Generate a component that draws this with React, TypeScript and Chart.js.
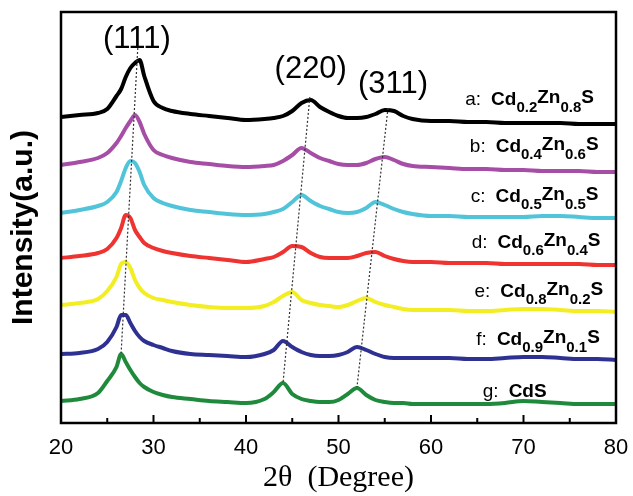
import React, { useEffect, useRef } from "react";
import { Chart, registerables } from "chart.js";

Chart.register(...registerables);

// 2θ sampling positions (degrees)
const twoTheta = [20, 22, 24, 25, 26, 26.5, 27, 27.5, 28, 28.5, 29, 30, 31, 32, 34, 36, 38, 40, 42, 43, 44, 45, 46, 47, 48, 49, 50, 51, 52, 53, 54, 55, 56, 57, 58, 60, 62, 64, 66, 68, 70, 72, 74, 76, 78, 80];

// Stacked intensities (a.u.)
const seriesA = [306, 308, 310, 314, 327, 334, 346, 355, 360, 363, 347, 322, 315, 312, 309, 307, 305, 303, 304, 305, 307, 312, 320, 323, 316, 311, 307, 305, 305, 306, 309, 313, 312, 307, 304, 302, 302, 301, 301, 300, 300, 300, 300, 299, 299, 299];
const seriesB = [258, 261, 265, 270, 280, 287, 295, 302, 308, 301, 289, 273, 268, 265, 261, 259, 257, 256, 257, 258, 262, 268, 275, 270, 265, 262, 259, 258, 258, 260, 264, 266, 263, 259, 257, 256, 255, 254, 254, 253, 253, 252, 252, 252, 251, 251];
const seriesC = [210, 213, 217, 221, 231, 242, 255, 262, 260, 251, 238, 225, 220, 217, 213, 211, 209, 208, 209, 211, 214, 221, 228, 222, 217, 214, 211, 210, 211, 215, 221, 218, 214, 211, 209, 207, 207, 206, 206, 206, 206, 207, 207, 206, 205, 205];
const seriesD = [165, 167, 170, 174, 185, 195, 208, 205, 193, 186, 180, 175, 172, 170, 167, 165, 163, 161, 164, 166, 171, 177, 176, 170, 166, 165, 165, 165, 167, 170, 171, 167, 164, 162, 161, 161, 160, 160, 160, 159, 159, 159, 159, 159, 158, 158];
const seriesE = [118, 120, 124, 132, 146, 159, 161, 155, 143, 135, 130, 125, 123, 121, 118, 116, 115, 115, 117, 121, 127, 131, 123, 120, 118, 117, 116, 118, 122, 125, 121, 118, 116, 114, 113, 113, 113, 112, 112, 113, 114, 114, 113, 112, 112, 111];
const seriesF = [69, 70, 74, 81, 96, 108, 108, 100, 92, 86, 82, 78, 75, 72, 69, 68, 67, 66, 69, 73, 82, 76, 71, 68, 67, 67, 68, 71, 76, 73, 69, 66, 65, 65, 65, 65, 65, 64, 64, 65, 66, 66, 65, 64, 64, 63];
const seriesG = [22, 24, 30, 42, 56, 69, 61, 53, 46, 40, 36, 31, 28, 26, 24, 22, 21, 20, 24, 31, 40, 29, 24, 22, 21, 21, 23, 29, 35, 28, 23, 21, 20, 20, 19, 19, 19, 19, 19, 20, 22, 21, 20, 19, 19, 19];

const allSeries = [seriesA, seriesB, seriesC, seriesD, seriesE, seriesF, seriesG];
const seriesColors = ["#000000", "#a64ea6", "#52c4d9", "#ee3330", "#f2ee22", "#2e3192", "#1f8a3c"];

// Sample labels
const labelLetters = ["a", "b", "c", "d", "e", "f", "g"];
const cdFraction = ["0.2", "0.4", "0.5", "0.6", "0.8", "0.9", ""];
const znFraction = ["0.8", "0.6", "0.5", "0.4", "0.2", "0.1", ""];
const labelX = [63.7, 64.2, 64.3, 64.4, 64.7, 64.9, 65.6];
const labelY = [318, 271, 221, 175, 126, 78, 26];

// Reflection labels
const peakNames = ["(111)", "(220)", "(311)"];
const peakNameX = [28.2, 47.0, 55.9];
const peakNameY = [384, 354, 339];

// Guide lines through the reflections (top point, bottom point)
const guideX111 = [28.3, 26.5];
const guideY111 = [375, 70];
const guideX220 = [46.9, 44.0];
const guideY220 = [326, 40];
const guideX311 = [55.35, 52.0];
const guideY311 = [315, 36];

const xMin = 20;
const xMax = 80;
const xStep = 10;
const yMin = 0;
const yMax = 411;

const SANS = "'Liberation Sans', Arial, sans-serif";
const SERIF = "'Liberation Serif', 'Times New Roman', serif";

const decorPlugin = {
  id: "decor",
  afterDatasetsDraw(chart: any) {
    const ctx = chart.ctx as CanvasRenderingContext2D;
    const xs = chart.scales.x;
    const ys = chart.scales.y;
    const area = chart.chartArea;
    ctx.save();

    // frame
    ctx.strokeStyle = "#000";
    ctx.lineWidth = 2.5;
    ctx.strokeRect(area.left, area.top, area.right - area.left, area.bottom - area.top);

    // inward ticks
    ctx.lineWidth = 2;
    for (let v = xMin + 5; v < xMax; v += 5) {
      const px = xs.getPixelForValue(v);
      const len = v % 10 === 0 ? 8 : 5;
      ctx.beginPath();
      ctx.moveTo(px, area.bottom);
      ctx.lineTo(px, area.bottom - len);
      ctx.stroke();
    }

    // y axis title
    ctx.fillStyle = "#000";
    ctx.save();
    ctx.translate(24, (area.top + area.bottom) / 2 + 10);
    ctx.rotate(-Math.PI / 2);
    ctx.font = `bold 30px ${SANS}`;
    ctx.textAlign = "center";
    ctx.textBaseline = "middle";
    ctx.fillText("Intensity(a.u.)", 0, 0);
    ctx.restore();

    // reflection labels
    ctx.font = `31px ${SANS}`;
    ctx.textAlign = "center";
    ctx.textBaseline = "middle";
    peakNames.forEach((t, i) => {
      ctx.fillText(t, xs.getPixelForValue(peakNameX[i]), ys.getPixelForValue(peakNameY[i]));
    });

    // sample labels
    ctx.textAlign = "left";
    ctx.textBaseline = "alphabetic";
    labelLetters.forEach((letter, i) => {
      let x = xs.getPixelForValue(labelX[i]);
      const y = ys.getPixelForValue(labelY[i]);
      ctx.font = `19px ${SANS}`;
      const pre = letter + ":";
      ctx.fillText(pre, x, y);
      x += ctx.measureText(pre).width + 10;
      if (!cdFraction[i]) {
        ctx.font = `bold 19px ${SANS}`;
        ctx.fillText("CdS", x, y);
        return;
      }
      ctx.font = `bold 19px ${SANS}`;
      ctx.fillText("Cd", x, y);
      x += ctx.measureText("Cd").width;
      ctx.font = `bold 15px ${SANS}`;
      ctx.fillText(cdFraction[i], x, y + 7);
      x += ctx.measureText(cdFraction[i]).width;
      ctx.font = `bold 19px ${SANS}`;
      ctx.fillText("Zn", x, y - 2);
      x += ctx.measureText("Zn").width;
      ctx.font = `bold 15px ${SANS}`;
      ctx.fillText(znFraction[i], x, y + 7);
      x += ctx.measureText(znFraction[i]).width;
      ctx.font = `bold 19px ${SANS}`;
      ctx.fillText("S", x, y - 2);
    });
    ctx.restore();
  },
};

export default function App() {
  const canvasRef = useRef<HTMLCanvasElement | null>(null);

  useEffect(() => {
    const canvas = canvasRef.current;
    if (!canvas) return;

    const datasets: any[] = allSeries.map((s, k) => ({
      label: labelLetters[k],
      data: twoTheta.map((x, i) => ({ x, y: s[i] })),
      borderColor: seriesColors[k],
      backgroundColor: seriesColors[k],
      borderWidth: 4,
      pointRadius: 0,
      cubicInterpolationMode: "monotone",
      fill: false,
    }));

    const guides = [
      [guideX111, guideY111],
      [guideX220, guideY220],
      [guideX311, guideY311],
    ];
    guides.forEach(([gx, gy], k) => {
      datasets.push({
        label: "guide" + k,
        data: gx.map((x, i) => ({ x, y: gy[i] })),
        borderColor: "#333333",
        borderWidth: 1.2,
        borderDash: [2, 2],
        pointRadius: 0,
        fill: false,
        order: -1,
      });
    });

    const chart = new Chart(canvas, {
      type: "line",
      data: { datasets },
      options: {
        animation: false,
        responsive: false,
        maintainAspectRatio: false,
        layout: { padding: { left: 0, right: 17, top: 12, bottom: 0 } },
        plugins: {
          legend: { display: false },
          tooltip: { enabled: false },
        },
        scales: {
          x: {
            type: "linear",
            min: xMin,
            max: xMax,
            afterFit: (scale: any) => {
              scale.height = 73;
              scale.paddingLeft = 0;
              scale.paddingRight = 0;
            },
            ticks: {
              stepSize: xStep,
              color: "#000",
              font: { family: SANS, size: 22 },
              padding: 12,
              maxRotation: 0,
            },
            grid: { display: false, drawTicks: false },
            border: { display: false },
            title: {
              display: true,
              text: "2θ  (Degree)",
              color: "#000",
              font: { family: SERIF, size: 30 },
              padding: { top: 0, bottom: 0 },
            },
          },
          y: {
            type: "linear",
            min: yMin,
            max: yMax,
            afterFit: (scale: any) => {
              scale.width = 61;
            },
            ticks: { display: false },
            grid: { display: false, drawTicks: false },
            border: { display: false },
            title: { display: false },
          },
        },
      },
      plugins: [decorPlugin],
    });

    return () => chart.destroy();
  }, []);

  return (
    <div style={{ position: "absolute", left: 0, top: 0, width: 633, height: 496, background: "#fff" }}>
      <canvas ref={canvasRef} width={633} height={496} />
    </div>
  );
}
